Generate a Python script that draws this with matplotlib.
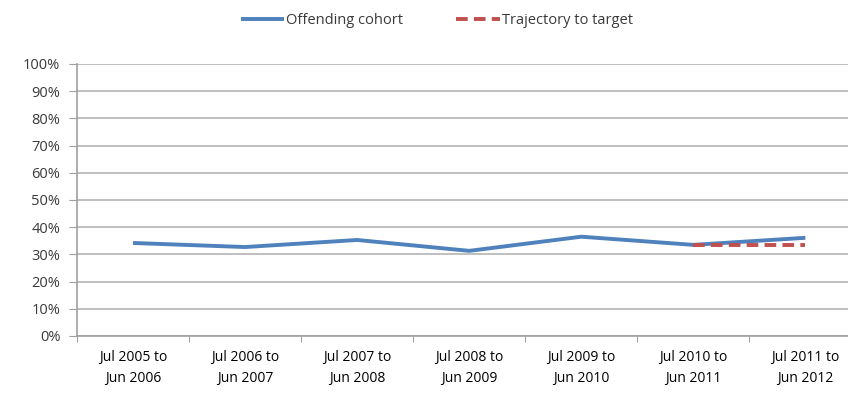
import matplotlib.pyplot as plt
import numpy as np

# Data
periods = ["Jul 2005 to\nJun 2006", "Jul 2006 to\nJun 2007", "Jul 2007 to\nJun 2008",
           "Jul 2008 to\nJun 2009", "Jul 2009 to\nJun 2010", "Jul 2010 to\nJun 2011",
           "Jul 2011 to\nJun 2012"]
offending_cohort = [34.2, 32.7, 35.3, 31.3, 36.5, 33.5, 36.1]
target_idx = [5, 6]
trajectory = [33.5, 33.5]

plt.rcParams['font.family'] = ['Open Sans', 'DejaVu Sans']

fig = plt.figure(figsize=(8.48, 3.95), dpi=100)
ax = fig.add_axes([0.0908, 0.1494, 0.925, 0.6886])

x = np.arange(len(periods))
ax.plot(x, offending_cohort, color="#4F81BD", lw=2.8, label="Offending cohort",
        solid_capstyle="butt")
ax.plot(target_idx, trajectory, color="#C0504D", lw=2.8, ls=(0, (3, 1.6)),
        label="Trajectory to target")

ax.set_xlim(-0.5, len(periods) - 0.5)
ax.set_ylim(0, 100)
ax.set_yticks(np.arange(0, 101, 10))
ax.set_yticklabels([f"{v}%" for v in range(0, 101, 10)])
ax.yaxis.grid(True, color="#B4B4B4", lw=1.2)
ax.set_axisbelow(True)

ax.set_xticks(np.arange(-0.5, len(periods) - 0.4, 1))
ax.set_xticklabels([])
ax.set_xticks(x, minor=True)
ax.set_xticklabels(periods, minor=True)
ax.tick_params(axis="x", which="minor", length=0, pad=10)
ax.tick_params(axis="x", which="major", length=4, color="#A0A0A0")
ax.tick_params(axis="y", length=6, color="#A0A0A0", pad=6)
ax.tick_params(labelsize=10.5, labelcolor="#3A3A3A")
for lbl in ax.get_xticklabels(minor=True):
    lbl.set_linespacing(1.55)

for s in ["top", "right"]:
    ax.spines[s].set_visible(False)
for s in ["left", "bottom"]:
    ax.spines[s].set_color("#A0A0A0")
    ax.spines[s].set_linewidth(1.2)

fig.legend(loc="upper center", bbox_to_anchor=(0.515, 1.0), ncol=2, frameon=False,
           fontsize=10.5, labelcolor="#3A3A3A", handlelength=3.0, handletextpad=0.15,
           columnspacing=3.6)

fig.savefig("out.png", dpi=100)
